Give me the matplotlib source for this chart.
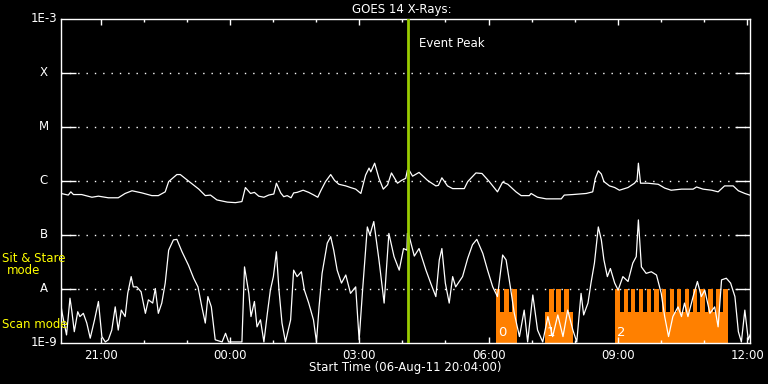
import datetime as dt
import numpy as np
import matplotlib
matplotlib.use("Agg")
import matplotlib.pyplot as plt
import matplotlib.dates as mdates
from matplotlib.transforms import blended_transform_factory

START = dt.datetime(2011, 8, 6, 20, 4)
SPAN_H = 16.0
EVENT_PEAK_H = 8.07

# long channel (1-8 A), hours after start / log10 flux
UP_T = [0.01, 0.18, 0.24, 0.30, 0.49, 0.73, 0.88, 1.11, 1.34, 1.50,
        1.66, 1.89, 2.12, 2.27, 2.43, 2.51, 2.70, 2.78, 2.97, 3.21,
        3.36, 3.48, 3.63, 3.87, 4.06, 4.21, 4.29, 4.41, 4.50, 4.60,
        4.72, 4.83, 4.95, 5.01, 5.11, 5.18, 5.26, 5.35, 5.41, 5.49,
        5.63, 5.76, 5.88, 5.97, 6.04, 6.15, 6.27, 6.36, 6.46, 6.62,
        6.73, 6.85, 6.97, 7.08, 7.16, 7.20, 7.29, 7.39, 7.49, 7.59,
        7.68, 7.82, 7.91, 8.01, 8.05, 8.09, 8.17, 8.32, 8.52, 8.71,
        8.77, 8.85, 8.98, 9.10, 9.37, 9.45, 9.64, 9.78, 9.95, 10.14,
        10.26, 10.38, 10.57, 10.69, 10.88, 10.92, 11.07, 11.27, 11.62, 11.69,
        11.89, 12.20, 12.35, 12.41, 12.48, 12.55, 12.61, 12.74, 12.86, 12.97,
        13.17, 13.32, 13.38, 13.41, 13.46, 13.63, 13.87, 14.02, 14.17, 14.41,
        14.68, 14.76, 14.91, 15.11, 15.26, 15.41, 15.61, 15.73, 15.88, 16.03]
UP_LOG = [-6.24, -6.27, -6.21, -6.26, -6.26, -6.31, -6.29, -6.32, -6.32, -6.24,
          -6.19, -6.23, -6.28, -6.28, -6.21, -6.02, -5.89, -5.89, -6.01, -6.16,
          -6.28, -6.27, -6.36, -6.40, -6.41, -6.39, -6.13, -6.24, -6.22, -6.29,
          -6.31, -6.27, -6.25, -6.05, -6.23, -6.30, -6.28, -6.32, -6.23, -6.22,
          -6.18, -6.22, -6.27, -6.31, -6.19, -6.02, -5.89, -6.00, -6.07, -6.10,
          -6.13, -6.16, -6.24, -5.90, -5.77, -5.84, -5.68, -5.96, -6.16, -6.08,
          -5.86, -6.05, -6.00, -5.96, -5.81, -5.81, -5.92, -5.85, -6.00, -6.10,
          -6.09, -5.95, -6.10, -6.15, -6.15, -6.02, -5.86, -5.87, -6.02, -6.21,
          -6.03, -6.07, -6.21, -6.28, -6.28, -6.24, -6.31, -6.34, -6.34, -6.27,
          -6.26, -6.24, -6.21, -5.96, -5.82, -5.88, -6.02, -6.10, -6.13, -6.18,
          -6.13, -6.05, -5.99, -5.68, -6.05, -6.05, -6.07, -6.14, -6.18, -6.16,
          -6.16, -6.12, -6.16, -6.18, -6.21, -6.10, -6.10, -6.19, -6.24, -6.28]

# short channel (0.5-4 A)
LO_T = [0.01, 0.04, 0.14, 0.22, 0.26, 0.32, 0.40, 0.45, 0.53, 0.61,
        0.69, 0.79, 0.88, 0.96, 1.04, 1.11, 1.19, 1.27, 1.34, 1.41,
        1.50, 1.56, 1.64, 1.69, 1.77, 1.87, 1.97, 2.04, 2.14, 2.20,
        2.27, 2.35, 2.43, 2.51, 2.62, 2.70, 2.82, 2.97, 3.09, 3.19,
        3.28, 3.36, 3.42, 3.50, 3.59, 3.75, 3.83, 3.90, 4.21, 4.27,
        4.37, 4.42, 4.50, 4.56, 4.64, 4.72, 4.80, 4.87, 4.94, 5.01,
        5.07, 5.14, 5.22, 5.34, 5.41, 5.49, 5.59, 5.66, 5.76, 5.87,
        5.94, 6.00, 6.07, 6.19, 6.27, 6.34, 6.42, 6.52, 6.62, 6.73,
        6.85, 6.93, 7.01, 7.12, 7.18, 7.27, 7.39, 7.51, 7.62, 7.74,
        7.86, 7.96, 8.04, 8.05, 8.09, 8.21, 8.32, 8.48, 8.59, 8.71,
        8.79, 8.85, 8.93, 9.02, 9.10, 9.17, 9.33, 9.45, 9.56, 9.66,
        9.80, 9.91, 10.03, 10.14, 10.26, 10.34, 10.45, 10.53, 10.65, 10.76,
        10.84, 10.96, 11.07, 11.19, 11.31, 11.42, 11.54, 11.66, 11.77, 11.89,
        11.98, 12.08, 12.14, 12.24, 12.31, 12.39, 12.48, 12.55, 12.61, 12.69,
        12.76, 12.86, 12.94, 13.05, 13.17, 13.28, 13.36, 13.41, 13.48, 13.59,
        13.71, 13.83, 13.94, 14.02, 14.11, 14.21, 14.33, 14.41, 14.48, 14.56,
        14.68, 14.78, 14.87, 14.95, 15.07, 15.18, 15.26, 15.34, 15.45, 15.55,
        15.65, 15.73, 15.80, 15.88, 15.96, 16.03]
LO_LOG = [-8.31, -8.46, -8.86, -8.18, -8.40, -8.80, -8.43, -8.52, -8.46, -8.64,
          -8.92, -8.58, -8.24, -8.89, -8.99, -8.95, -8.77, -8.34, -8.77, -8.40,
          -8.52, -8.09, -7.78, -7.97, -7.97, -8.06, -8.46, -8.21, -8.27, -8.00,
          -8.46, -8.27, -7.90, -7.29, -7.10, -7.09, -7.32, -7.57, -7.81, -7.97,
          -8.34, -8.64, -8.15, -8.34, -8.95, -8.99, -8.83, -8.99, -8.99, -7.60,
          -8.09, -8.52, -8.24, -8.71, -8.58, -8.99, -8.46, -8.03, -7.78, -7.32,
          -8.03, -8.64, -8.99, -8.58, -7.66, -7.78, -7.69, -8.03, -8.27, -8.58,
          -8.99, -8.34, -7.72, -7.16, -7.04, -7.29, -7.66, -7.90, -7.75, -8.09,
          -7.97, -8.95, -8.03, -6.86, -7.01, -6.76, -7.47, -8.27, -6.98, -7.41,
          -7.66, -7.26, -7.29, -6.98, -7.03, -7.40, -7.26, -7.66, -7.90, -8.15,
          -7.47, -7.26, -7.90, -8.27, -7.78, -7.97, -7.78, -7.44, -7.19, -7.09,
          -7.35, -7.66, -7.97, -8.15, -7.38, -7.47, -8.03, -8.46, -8.89, -8.40,
          -8.99, -8.12, -8.77, -8.99, -8.52, -8.89, -8.49, -8.89, -8.40, -8.77,
          -8.99, -8.09, -8.49, -8.27, -7.90, -7.53, -6.86, -7.10, -7.47, -7.78,
          -7.63, -7.90, -8.03, -7.78, -7.87, -7.53, -7.41, -6.73, -7.60, -7.72,
          -7.69, -7.75, -8.09, -8.52, -8.89, -8.52, -8.34, -8.52, -8.27, -8.52,
          -8.15, -7.87, -8.15, -8.03, -8.46, -8.34, -8.71, -7.84, -7.81, -7.90,
          -8.15, -8.80, -8.99, -8.40, -8.95, -8.80]

# observing mode blocks (hours after start)
SCAN_START = [10.10, 11.24, 12.87]
SCAN_END = [10.59, 11.89, 15.50]
SCAN_LABELS = ["0", "1", "2"]
STARE_START = [10.10, 10.29, 10.48, 11.33, 11.50, 11.68,
               12.87, 13.07, 13.24, 13.42, 13.60, 13.78, 13.96, 14.14,
               14.31, 14.49, 14.67, 14.85, 15.03, 15.21, 15.38]
STARE_END = [10.21, 10.41, 10.59, 11.45, 11.62, 11.79,
             12.99, 13.17, 13.34, 13.52, 13.70, 13.88, 14.06, 14.24,
             14.41, 14.59, 14.77, 14.95, 15.13, 15.31, 15.50]
SCAN_LEVEL = 10 ** -8.44
STARE_LEVEL = 1e-8

CLASS_LEVELS = [1e-4, 1e-5, 1e-6, 1e-7, 1e-8]
CLASS_NAMES = ["X", "M", "C", "B", "A"]

ORANGE = "#ff8000"
GREEN = "#99cc00"
FS = 8.5

t0 = mdates.date2num(START)


def tnum(hours):
    return t0 + np.asarray(hours) / 24.0


fig = plt.figure(figsize=(7.68, 3.84), dpi=100, facecolor="black")
ax = fig.add_axes([60.5 / 768, 41.5 / 384, 689.5 / 768, 324 / 384])
ax.set_facecolor("black")
ax.set_yscale("log")
ax.set_ylim(1e-9, 1e-3)
ax.set_xlim(tnum(0), tnum(SPAN_H))

# mode blocks
for s, e in zip(SCAN_START, SCAN_END):
    ax.bar(tnum(s), SCAN_LEVEL - 1e-9, width=(e - s) / 24, bottom=1e-9,
           align="edge", color=ORANGE, linewidth=0, zorder=1)
for s, e in zip(STARE_START, STARE_END):
    ax.bar(tnum(s), STARE_LEVEL - 1e-9, width=(e - s) / 24, bottom=1e-9,
           align="edge", color=ORANGE, linewidth=0, zorder=1)
for s, lbl in zip(SCAN_START, SCAN_LABELS):
    ax.text(tnum(s + 0.05), 10 ** -8.82, lbl, color="white", fontsize=9.5,
            ha="left", va="center", zorder=2)

# class grid
for lev in CLASS_LEVELS:
    ax.axhline(lev, color="white", lw=1.0, ls=(0, (1, 5)), zorder=0.5)

ax.plot(tnum(UP_T), 10 ** np.array(UP_LOG), color="white", lw=0.9, zorder=3)
ax.plot(tnum(LO_T), 10 ** np.array(LO_LOG), color="white", lw=0.9, zorder=3)

ax.axvline(tnum(EVENT_PEAK_H), color=GREEN, lw=2.0, zorder=4)
ax.text(tnum(EVENT_PEAK_H + 0.24), 10 ** -3.47, "Event Peak", color="white",
        fontsize=FS, ha="left", va="center")

# axes styling
for sp in ax.spines.values():
    sp.set_color("white")
    sp.set_linewidth(1.0)
ax.xaxis.set_major_locator(mdates.HourLocator(byhour=range(0, 24, 3)))
ax.xaxis.set_minor_locator(mdates.HourLocator())
ax.xaxis.set_major_formatter(mdates.DateFormatter("%H:%M"))
ax.tick_params(axis="x", which="major", direction="in", length=4.5, width=1,
               color="white", labelcolor="white", labelsize=FS, top=True,
               pad=5)
ax.tick_params(axis="x", which="minor", direction="in", length=2.2, width=1,
               color="white", top=True)
ax.set_yticks(CLASS_LEVELS)
ax.set_yticklabels([])
ax.yaxis.set_minor_locator(matplotlib.ticker.NullLocator())
ax.tick_params(axis="y", which="major", direction="in", length=11, width=1,
               color="white", right=True)

tr = blended_transform_factory(ax.transAxes, ax.transData)
for lev, name in zip(CLASS_LEVELS, CLASS_NAMES):
    ax.text(-0.024, lev, name, transform=tr, color="white", fontsize=FS,
            ha="center", va="center")
ax.text(-0.005, 1e-3, "1E-3", transform=tr, color="white", fontsize=FS,
        ha="right", va="center")
ax.text(-0.005, 1e-9, "1E-9", transform=tr, color="white", fontsize=FS,
        ha="right", va="center")

fig.text(2 / 768, 1 - 258 / 384, "Sit & Stare", color="yellow",
         fontsize=FS, ha="left", va="center")
fig.text(24 / 768, 1 - 271 / 384, "mode", color="yellow",
         fontsize=FS, ha="center", va="center")
fig.text(2 / 768, 1 - 324 / 384, "Scan mode", color="yellow",
         fontsize=FS, ha="left", va="center")

fig.text(402 / 768, 1 - 9.5 / 384, "GOES 14 X-Rays:", color="white",
         fontsize=FS, ha="center", va="center")
fig.text(405 / 768, 1 - 368 / 384, "Start Time (06-Aug-11 20:04:00)",
         color="white", fontsize=FS, ha="center", va="center")

fig.savefig("out.png", dpi=100, facecolor="black")
